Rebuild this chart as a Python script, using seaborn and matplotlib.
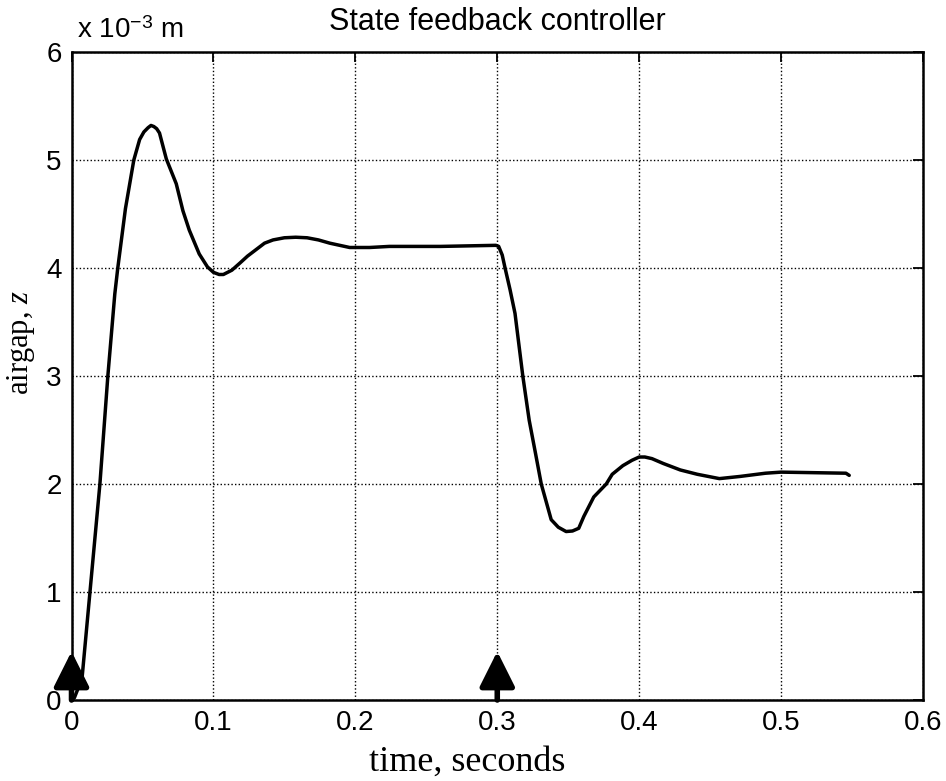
import matplotlib
matplotlib.use("Agg")
import matplotlib.pyplot as plt
import seaborn as sns
import pandas as pd

# ---- data (airgap in units of 1e-3 m) ----
time_s = [0.0, 0.002, 0.0074, 0.013, 0.020, 0.0256, 0.0305, 0.0326, 0.038, 0.0439,
          0.048, 0.051, 0.054, 0.056, 0.058, 0.060, 0.062, 0.0668, 0.0738, 0.0785,
          0.083, 0.090, 0.0958, 0.100, 0.104, 0.107, 0.113, 0.119, 0.124, 0.128,
          0.132, 0.136, 0.142, 0.150, 0.158, 0.166, 0.174, 0.182, 0.189, 0.196,
          0.210, 0.224, 0.260, 0.299, 0.301, 0.3035, 0.3055, 0.309, 0.3125, 0.318,
          0.3225, 0.327, 0.331, 0.338, 0.343, 0.3485, 0.353, 0.3574, 0.361, 0.368,
          0.3768, 0.381, 0.3885, 0.395, 0.400, 0.404, 0.409, 0.417, 0.429, 0.441,
          0.4565, 0.471, 0.489, 0.500, 0.5457, 0.548]
airgap = [0.0, 0.02, 0.20, 1.00, 2.00, 3.00, 3.76, 4.00, 4.55, 5.00,
          5.19, 5.26, 5.30, 5.32, 5.31, 5.29, 5.25, 5.01, 4.78, 4.53,
          4.35, 4.13, 4.01, 3.96, 3.94, 3.94, 3.98, 4.05, 4.11, 4.15,
          4.19, 4.23, 4.26, 4.28, 4.285, 4.28, 4.26, 4.23, 4.21, 4.19,
          4.19, 4.20, 4.20, 4.21, 4.20, 4.12, 4.00, 3.80, 3.58, 3.00,
          2.59, 2.28, 2.00, 1.67, 1.60, 1.56, 1.565, 1.59, 1.70, 1.88,
          2.00, 2.09, 2.17, 2.22, 2.25, 2.25, 2.235, 2.19, 2.13, 2.09,
          2.05, 2.07, 2.10, 2.11, 2.10, 2.08]
step_times = [0.0, 0.3]
arrow_height = 0.45
x_ticks = [0, 0.1, 0.2, 0.3, 0.4, 0.5, 0.6]
x_tick_labels = ["0", "0.1", "0.2", "0.3", "0.4", "0.5", "0.6"]
y_ticks = [0, 1, 2, 3, 4, 5, 6]

df = pd.DataFrame({"time": time_s, "airgap": airgap})

sns.set_theme(style="white")
plt.rcParams["font.family"] = ["Liberation Sans", "DejaVu Sans"]
plt.rcParams["mathtext.fontset"] = "custom"
plt.rcParams["mathtext.rm"] = "Liberation Sans"
plt.rcParams["mathtext.it"] = "Liberation Serif:italic"

fig = plt.figure(figsize=(9.46, 7.81), dpi=100)
ax = fig.add_axes([0.0756, 0.1037, 0.9001, 0.8297])

sns.lineplot(data=df, x="time", y="airgap", ax=ax, color="black",
             linewidth=2.5, sort=False, estimator=None)

for t in step_times:
    ax.annotate("", xy=(t, arrow_height), xytext=(t, 0),
                arrowprops=dict(arrowstyle="-|>", color="black", lw=4,
                                mutation_scale=54, shrinkA=0, shrinkB=0),
                annotation_clip=False)

ax.set_xlim(0, 0.6)
ax.set_ylim(0, 6)
ax.set_xticks(x_ticks)
ax.set_xticklabels(x_tick_labels)
ax.set_yticks(y_ticks)
ax.grid(True, linestyle=(0, (1, 1.6)), color="black", linewidth=1.0)
ax.set_axisbelow(True)
for sp in ax.spines.values():
    sp.set_color("black")
    sp.set_linewidth(1.8)
    sp.set_visible(True)
ax.tick_params(direction="in", length=7, width=1.3, top=True, right=True,
               labelsize=20, colors="black", pad=7)

ax.set_xlabel("time, seconds", family="Liberation Serif", fontsize=26,
              color="black", labelpad=0)
ax.xaxis.set_label_coords(0.465, -0.070)
ax.set_ylabel(r"airgap, $z$", family="Liberation Serif", fontsize=22,
              color="black")
ax.yaxis.set_label_coords(-0.040, 0.551)
ax.set_title("State feedback controller", fontsize=22, color="black", pad=16)
ax.text(0.007, 1.012, r"x 10$^{\mathregular{-3}}$ m", transform=ax.transAxes,
        fontsize=20, ha="left", va="bottom", color="black")

fig.savefig("out.png", dpi=100)
